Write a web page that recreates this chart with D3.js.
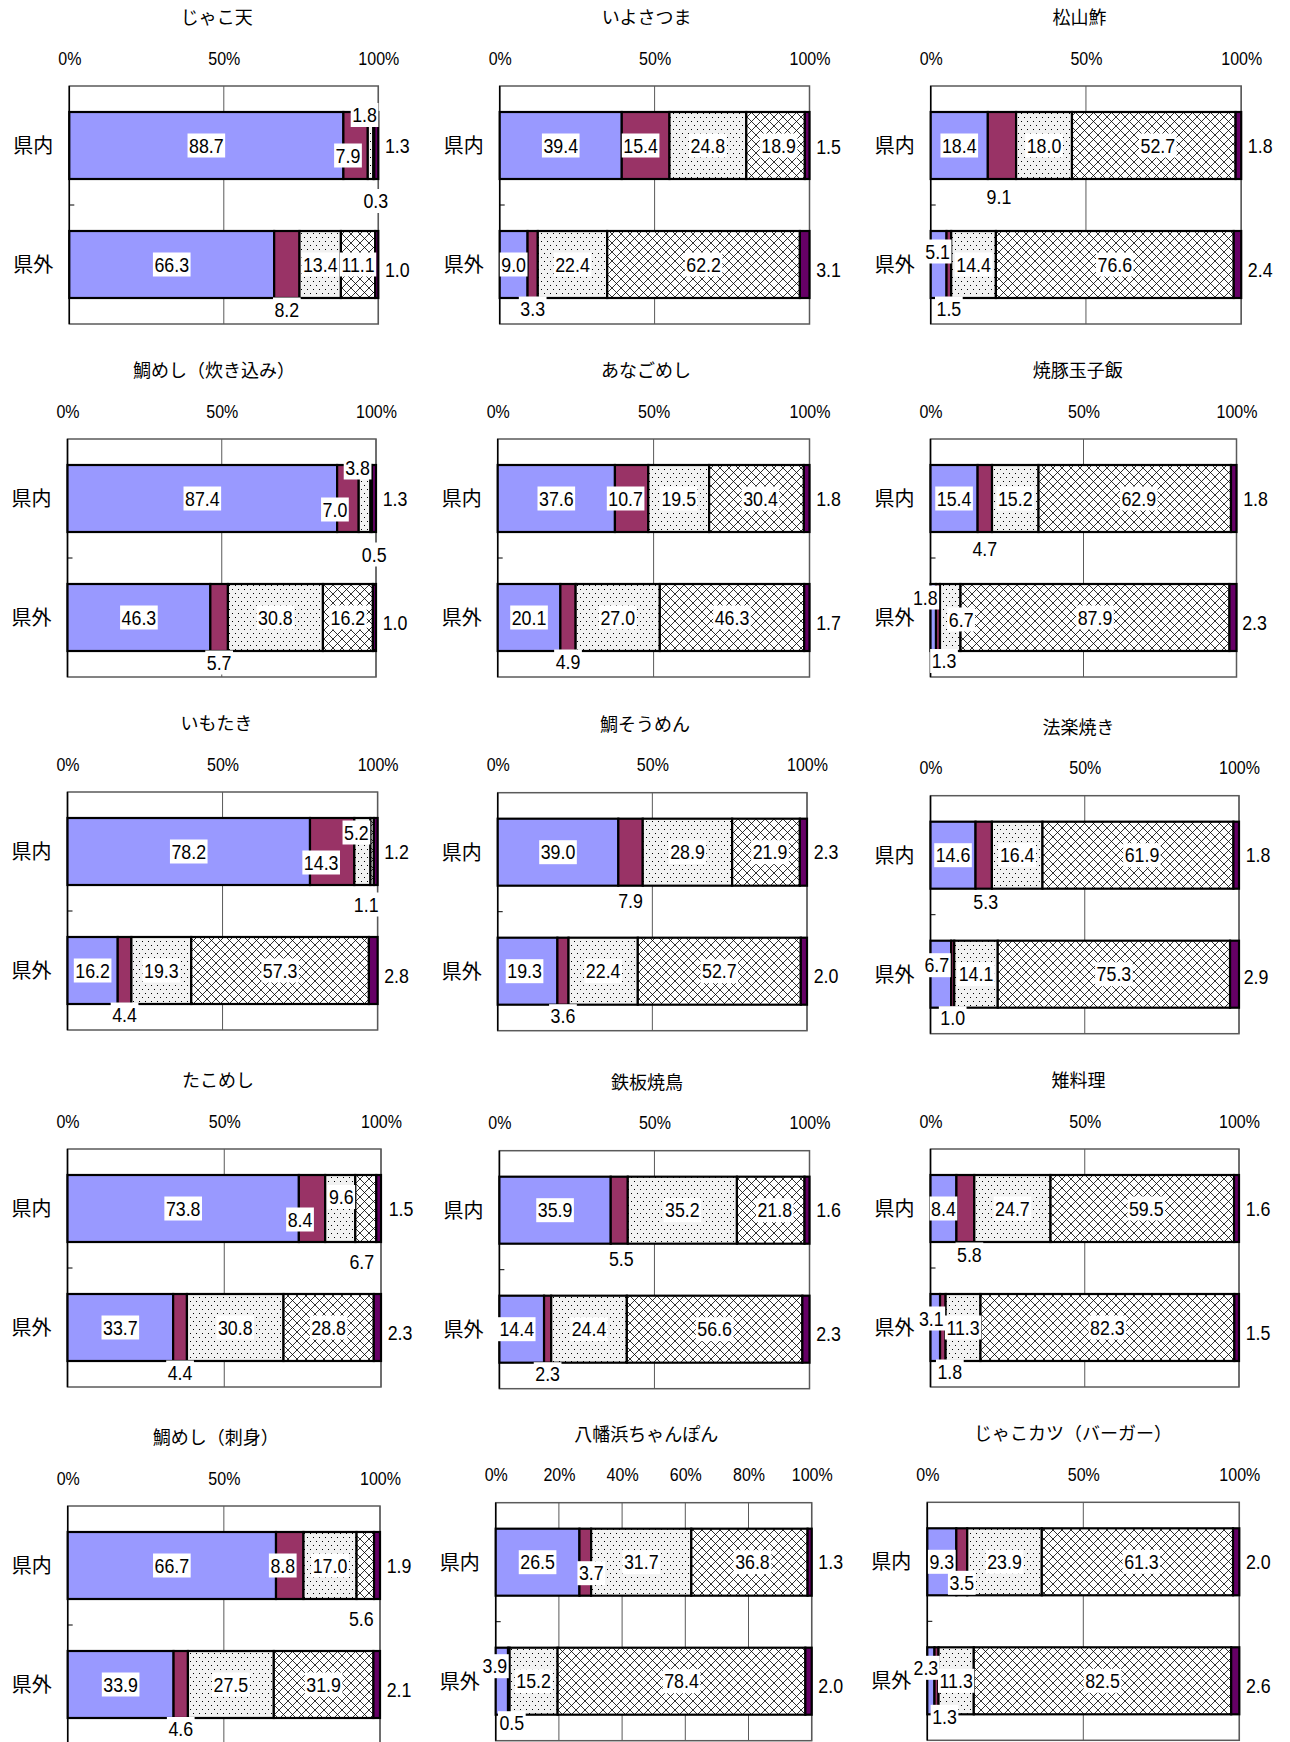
<!DOCTYPE html>
<html>
<head>
<meta charset="utf-8">
<script src="https://cdn.jsdelivr.net/npm/d3@7"></script>
<style>
  body { margin: 0; background: #fff; }
  svg { display: block; }
</style>
</head>
<body>
<svg id="chart" width="1290" height="1742"></svg>
<script>
// ---- data ----
const titles = [
  'じゃこ天', 'いよさつま', '松山鮓',
  '鯛めし（炊き込み）', 'あなごめし', '焼豚玉子飯',
  'いもたき', '鯛そうめん', '法楽焼き',
  'たこめし', '鉄板焼鳥', '雉料理',
  '鯛めし（刺身）', '八幡浜ちゃんぽん', 'じゃこカツ（バーガー）'
];
const categories = ['県内', '県外'];
const segmentKeys = ['s1', 's2', 's3', 's4', 's5'];

// shares (%) of the five answer groups, per dish
const sharesIn = [
  [88.7, 7.9, 1.8, 0.3, 1.3],
  [39.4, 15.4, 24.8, 18.9, 1.5],
  [18.4, 9.1, 18.0, 52.7, 1.8],
  [87.4, 7.0, 3.8, 0.5, 1.3],
  [37.6, 10.7, 19.5, 30.4, 1.8],
  [15.4, 4.7, 15.2, 62.9, 1.8],
  [78.2, 14.3, 5.2, 1.1, 1.2],
  [39.0, 7.9, 28.9, 21.9, 2.3],
  [14.6, 5.3, 16.4, 61.9, 1.8],
  [73.8, 8.4, 9.6, 6.7, 1.5],
  [35.9, 5.5, 35.2, 21.8, 1.6],
  [8.4, 5.8, 24.7, 59.5, 1.6],
  [66.7, 8.8, 17.0, 5.6, 1.9],
  [26.5, 3.7, 31.7, 36.8, 1.3],
  [9.3, 3.5, 23.9, 61.3, 2.0]
];
const sharesOut = [
  [66.3, 8.2, 13.4, 11.1, 1.0],
  [9.0, 3.3, 22.4, 62.2, 3.1],
  [5.1, 1.5, 14.4, 76.6, 2.4],
  [46.3, 5.7, 30.8, 16.2, 1.0],
  [20.1, 4.9, 27.0, 46.3, 1.7],
  [1.8, 1.3, 6.7, 87.9, 2.3],
  [16.2, 4.4, 19.3, 57.3, 2.8],
  [19.3, 3.6, 22.4, 52.7, 2.0],
  [6.7, 1.0, 14.1, 75.3, 2.9],
  [33.7, 4.4, 30.8, 28.8, 2.3],
  [14.4, 2.3, 24.4, 56.6, 2.3],
  [3.1, 1.8, 11.3, 82.3, 1.5],
  [33.9, 4.6, 27.5, 31.9, 2.1],
  [3.9, 0.5, 15.2, 78.4, 2.0],
  [2.3, 1.3, 11.3, 82.5, 2.6]
];

const ticksHalf = [0, 50, 100];
const ticksFifth = [0, 20, 40, 60, 80, 100];
const panelTicks = [
  ticksHalf, ticksHalf, ticksHalf,
  ticksHalf, ticksHalf, ticksHalf,
  ticksHalf, ticksHalf, ticksHalf,
  ticksHalf, ticksHalf, ticksHalf,
  ticksHalf, ticksFifth, ticksHalf
];

// ---- layout ----
const panelLeft  = [69.3, 499.7, 930.7, 67.5, 497.7, 930.5, 67.5, 497.7, 930.5, 67.5, 499.4, 930.5, 67.7, 495.7, 927.3];
const panelRight = [378.3, 809.5, 1241.2, 376, 809.5, 1236.5, 377.6, 807, 1239, 381, 809.5, 1239, 380, 811.7, 1239.3];
const panelTop   = [86, 86, 86, 439, 439, 439, 792, 792.7, 795.7, 1149, 1150.7, 1149, 1506, 1502.7, 1502.3];
const titleX     = [216.7, 646.6, 1079.4, 213.9, 646, 1077.7, 216.4, 645, 1078.6, 218, 647, 1078.6, 215.8, 646.3, 1073];
const plotH = 238;

// hand placement of value labels that would otherwise collide: [dx, dy]
const nudgeIn = [
  [[0,0],[-7.6,10],[-6,-30.5],[2,55.5],[0,0]],
  [[0,0],[-5,0],[0,0],[3,0],[0,1]],
  [[0,0],[-3,51],[0,0],[4,0],[0,0]],
  [[0,0],[-13,11],[-7,-31],[3,56],[0,0]],
  [[0,0],[-6,0],[0,0],[4,0],[0,0]],
  [[0,0],[0,50],[0,0],[4,0],[0,0]],
  [[0,0],[-11,11],[-6,-19],[-6,53],[0,0]],
  [[0,0],[0,49],[0,0],[4,0],[0,0]],
  [[0,0],[2,47],[0,0],[4,0],[0,0]],
  [[0,0],[-12,11],[1,-11.5],[-4,53],[1,0]],
  [[0,0],[2,49],[0,0],[4,0],[0,0]],
  [[0,0],[4,46],[0,0],[4,0],[0,0]],
  [[0,0],[-7,0],[0,0],[-4,53],[0,0]],
  [[0,0],[6,11],[0,0],[3,0],[0,0]],
  [[0,0],[0,21],[0,0],[4,0],[0,0]]
];
const nudgeOut = [
  [[0,0],[0,45],[0,0],[0,0],[0,5]],
  [[0,0],[0,44],[0,0],[0,0],[0,5]],
  [[-1,-13],[0,44],[0,0],[0,0],[0,5]],
  [[0,0],[0,45],[0,0],[0,0],[0,5]],
  [[0,0],[0,44],[0,0],[0,0],[0,5]],
  [[-8,-20],[6,43.5],[11,2],[0,0],[-1,5]],
  [[0,0],[0,44],[0,0],[0,0],[0,5]],
  [[-3,0],[0,45],[0,0],[0,0],[0,5]],
  [[-4,-9],[0,44],[0,0],[0,0],[-2,3]],
  [[0,0],[0,45],[0,0],[0,0],[0,5]],
  [[-5,0],[0,45],[0,0],[0,0],[0,5]],
  [[-4,-9],[7,44],[0,0],[0,0],[0,5]],
  [[0,0],[0,44.5],[0,0],[0,0],[0,5]],
  [[-7,-15],[3,42],[0,0],[0,0],[0,5]],
  [[-5,-13],[8,36],[0,0],[0,0],[0,5]]
];

const NUM_FONT = '"Liberation Sans", Arial, sans-serif';
const JP_FONT = '"Noto Sans CJK JP", "Noto Sans", sans-serif';
const SQUEEZE = 0.89;

const svg = d3.select('#chart');
const defs = svg.append('defs');

// fine dot fill
const dots = defs.append('pattern').attr('id', 'pat-dots')
  .attr('patternUnits', 'userSpaceOnUse').attr('width', 6).attr('height', 8);
dots.append('rect').attr('width', 6).attr('height', 8).attr('fill', '#f2f2f2');
dots.append('rect').attr('x', 1).attr('y', 1).attr('width', 1).attr('height', 1).attr('fill', '#000');
dots.append('rect').attr('x', 4).attr('y', 5).attr('width', 1).attr('height', 1).attr('fill', '#000');

// diagonal cross-hatch fill
const HS = 9;
const cross = defs.append('pattern').attr('id', 'pat-cross')
  .attr('patternUnits', 'userSpaceOnUse').attr('width', HS).attr('height', HS);
cross.append('rect').attr('width', HS).attr('height', HS).attr('fill', '#fff');
cross.append('path')
  .attr('d', `M0,0L${HS},${HS}M${HS},0L0,${HS}M-1,${HS - 1}L1,${HS + 1}M${HS - 1},-1L${HS + 1},1M-1,1L1,-1M${HS - 1},${HS + 1}L${HS + 1},${HS - 1}`)
  .attr('stroke', '#000').attr('stroke-width', 0.8).attr('fill', 'none');

const segFill = d3.scaleOrdinal()
  .domain(segmentKeys)
  .range(['#9999ff', '#993366', 'url(#pat-dots)', 'url(#pat-cross)', '#660066']);

const fmt = d3.format('.1f');

function squeezedText(sel, str, size) {
  return sel.append('text')
    .attr('text-anchor', 'middle')
    .attr('y', size * 0.36)
    .attr('transform', `scale(${SQUEEZE},1)`)
    .style('font-family', NUM_FONT)
    .style('font-size', size + 'px')
    .attr('fill', '#000')
    .text(str);
}

titles.forEach((title, i) => {
  const left = panelLeft[i], right = panelRight[i], top = panelTop[i];
  const x = d3.scaleLinear().domain([0, 100]).range([left, right]);
  const y = d3.scaleBand().domain(categories)
    .range([top, top + plotH]).paddingInner(0.437).paddingOuter(0.2185);
  const bw = y.bandwidth();

  const rows = categories.map((c, r) => {
    const vals = r === 0 ? sharesIn[i] : sharesOut[i];
    const o = { cat: c };
    segmentKeys.forEach((k, j) => { o[k] = vals[j]; });
    return o;
  });
  const stacked = d3.stack().keys(segmentKeys)(rows);

  const g = svg.append('g');

  // title
  g.append('text')
    .attr('x', titleX[i]).attr('y', top - 69 + 18 * 0.38)
    .attr('text-anchor', 'middle')
    .style('font-family', JP_FONT).style('font-size', '18px')
    .attr('fill', '#000')
    .text(title);

  // percent axis along the top
  const axis = g.append('g').attr('transform', `translate(0,${top})`)
    .call(d3.axisTop(x).tickValues(panelTicks[i]).tickSize(0).tickPadding(21.5)
      .tickFormat(d => d + '%'));
  axis.select('.domain').remove();
  axis.selectAll('text')
    .attr('transform', `scale(${SQUEEZE},1)`)
    .style('font-family', NUM_FONT).style('font-size', '18px')
    .attr('fill', '#000');

  // plot frame and gridlines
  g.append('rect')
    .attr('x', left).attr('y', top).attr('width', right - left).attr('height', plotH)
    .attr('fill', '#fff').attr('stroke', '#5a5a5a').attr('stroke-width', 1.5);
  g.selectAll('line.grid').data(panelTicks[i].filter(t => t > 0)).join('line')
    .attr('class', 'grid')
    .attr('x1', d => x(d)).attr('x2', d => x(d))
    .attr('y1', top).attr('y2', top + plotH)
    .attr('stroke', '#5a5a5a').attr('stroke-width', 1);
  g.append('line')
    .attr('x1', left).attr('x2', left).attr('y1', top).attr('y2', top + plotH)
    .attr('stroke', '#000').attr('stroke-width', 1.5);
  g.append('line')
    .attr('x1', left).attr('x2', left + 5)
    .attr('y1', top + plotH / 2).attr('y2', top + plotH / 2)
    .attr('stroke', '#000').attr('stroke-width', 1);

  // category labels
  g.selectAll('text.cat').data(categories).join('text')
    .attr('class', 'cat')
    .attr('x', left - 16)
    .attr('y', d => y(d) + bw / 2 + 20 * 0.38)
    .attr('text-anchor', 'end')
    .style('font-family', JP_FONT).style('font-size', '20px')
    .attr('fill', '#000')
    .text(d => d);

  // stacked bars
  stacked.forEach(layer => {
    g.selectAll(null).data(layer).join('rect')
      .attr('x', d => x(d[0]))
      .attr('y', d => y(d.data.cat))
      .attr('width', d => x(d[1]) - x(d[0]))
      .attr('height', bw)
      .attr('fill', segFill(layer.key))
      .attr('stroke', '#000').attr('stroke-width', 2.2);
  });

  // value labels
  stacked.forEach((layer, j) => {
    layer.forEach((d, r) => {
      const v = d[1] - d[0];
      const nudge = (r === 0 ? nudgeIn : nudgeOut)[i][j];
      const baseX = j === segmentKeys.length - 1 ? x(100) + 19 : (x(d[0]) + x(d[1])) / 2;
      const cx = baseX + nudge[0];
      const cy = y(d.data.cat) + bw / 2 + nudge[1];
      const lg = g.append('g').attr('transform', `translate(${cx},${cy})`);
      const t = squeezedText(lg, fmt(v), 20);
      if (j < segmentKeys.length - 1) {
        const w = t.node().getComputedTextLength() * SQUEEZE;
        lg.insert('rect', 'text')
          .attr('x', -w / 2 - 1.5).attr('y', -12)
          .attr('width', w + 3).attr('height', 24)
          .attr('fill', '#fff');
      }
    });
  });
});
</script>
</body>
</html>
